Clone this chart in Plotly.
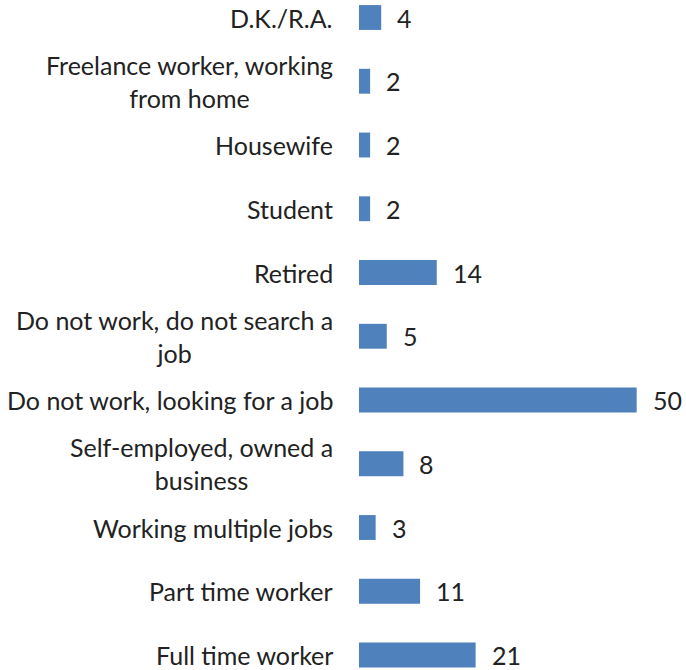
import plotly.graph_objects as go

# Employment status, listed from bottom to top of the chart
categories = [
    "Full time worker",
    "Part time worker",
    "Working multiple jobs",
    "Self-employed, owned a<br>business",
    "Do not work, looking for a job",
    "Do not work, do not search a<br>job",
    "Retired",
    "Student",
    "Housewife",
    "Freelance worker, working<br>from home",
    "D.K./R.A.",
]
values = [21, 11, 3, 8, 50, 5, 14, 2, 2, 2, 4]

BAR_COLOR = "#4F81BD"
TEXT_COLOR = "#222222"
FONT = "Lato"
FONT_SIZE = 25

fig = go.Figure(
    go.Bar(
        y=categories,
        x=values,
        orientation="h",
        width=0.39,
        marker=dict(color=BAR_COLOR, line=dict(width=0)),
        hoverinfo="skip",
    )
)

# Category labels: centred multi-line text to the left of the axis
for cat in categories:
    fig.add_annotation(
        x=0, y=cat, xref="x", yref="y",
        text=cat, showarrow=False,
        xanchor="right", yanchor="middle", align="center",
        xshift=-24,
        font=dict(family=FONT, size=FONT_SIZE, color=TEXT_COLOR),
    )

# Value labels at the end of each bar
for cat, v in zip(categories, values):
    fig.add_annotation(
        x=v, y=cat, xref="x", yref="y",
        text=str(v), showarrow=False,
        xanchor="left", yanchor="middle",
        xshift=14,
        font=dict(family=FONT, size=FONT_SIZE, color=TEXT_COLOR),
    )

fig.update_layout(
    width=686,
    height=670,
    margin=dict(l=359, r=0, t=0, b=0),
    paper_bgcolor="white",
    plot_bgcolor="white",
    showlegend=False,
    xaxis=dict(
        range=[0, 58.88],
        visible=False,
        fixedrange=True,
    ),
    yaxis=dict(
        type="category",
        categoryorder="array",
        categoryarray=categories,
        range=[-0.235, 10.2745],
        showticklabels=False,
        showgrid=False,
        zeroline=False,
        showline=False,
        ticks="",
        fixedrange=True,
    ),
)

fig.write_html("out.html")
